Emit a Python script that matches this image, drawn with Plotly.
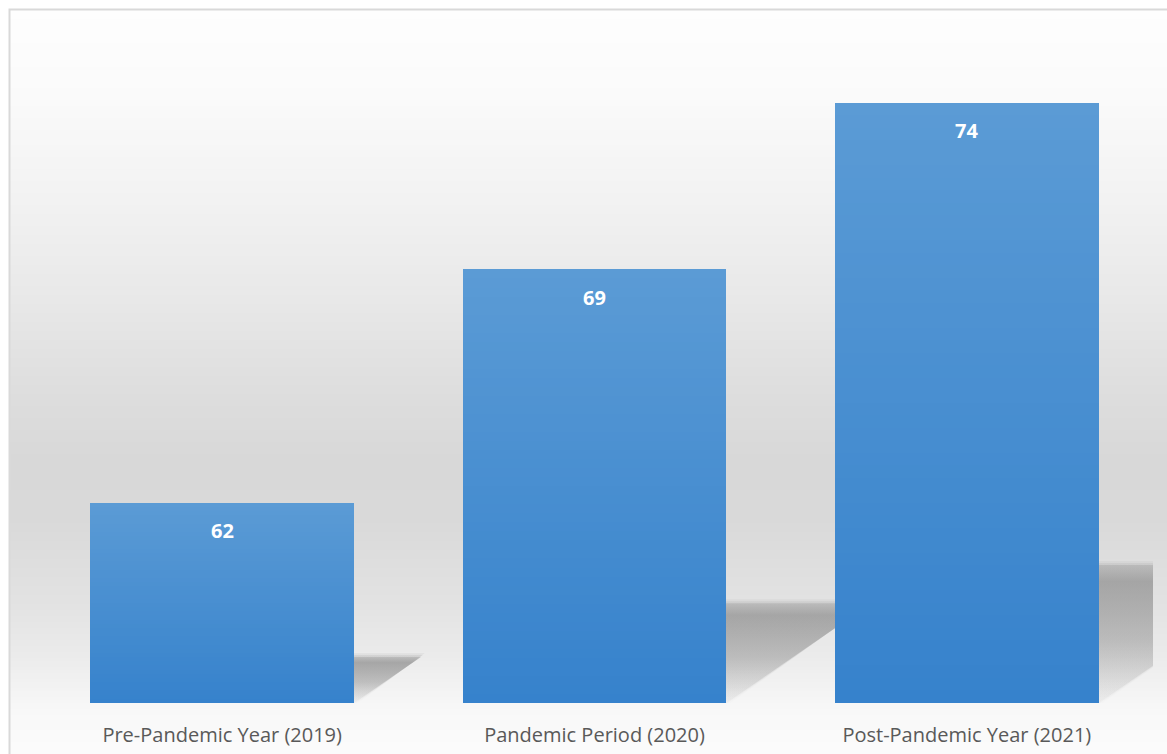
import plotly.graph_objects as go

# ---- data ----
categories = ["Pre-Pandemic Year (2019)", "Pandemic Period (2020)", "Post-Pandemic Year (2021)"]
values = [62, 69, 74]
axis_min, axis_max = 56, 76

# ---- layout geometry ----
W, H = 1167, 754
ML, MR, MT, MB = 36, 14, 36, 51
PW, PH = W - ML - MR, H - MT - MB
BAR_W = 0.709
px_per_x = PW / len(categories)
px_per_y = PH / (axis_max - axis_min)

BAR_TOP = (91, 155, 213)
BAR_BOTTOM = (54, 130, 204)
N_SLICES = 48


def mix(c1, c2, t):
    return "rgb({},{},{})".format(*[round(a + (b - a) * t) for a, b in zip(c1, c2)])


def gray_at(py, stops):
    for (y0, g0), (y1, g1) in zip(stops, stops[1:]):
        if y0 <= py <= y1:
            t = (py - y0) / (y1 - y0)
            return g0 + (g1 - g0) * t
    return stops[-1][1]


def to_paper_x(px):
    return (px - ML) / PW


def to_paper_y(py):
    return (MT + PH - py) / PH


fig = go.Figure()

# perspective shadows cast behind each bar (on the lower axis pair, drawn first);
# slightly grown copies at low opacity soften the edges
for i, v in enumerate(values):
    h = 0.23 * (v - axis_min)
    shift = 1.45 * h * px_per_y / px_per_x
    xl, xr = i - BAR_W / 2, i + BAR_W / 2
    for g_px, a in [(4, 0.25), (2, 0.4), (0, 1.0)]:
        gx = g_px / px_per_x
        gy = g_px / px_per_y
        xs = [xl, xr + gx, xr + shift + gx, xl + shift, xl]
        ys = [axis_min, axis_min, axis_min + h + gy, axis_min + h + gy, axis_min]
        fig.add_trace(go.Scatter(
            x=xs, y=ys, xaxis="x", yaxis="y",
            mode="lines", line=dict(width=0), fill="toself",
            fillgradient=dict(type="vertical", colorscale=[
                [0.0, f"rgba(190,190,190,{0.10 * a:.3f})"],
                [0.45, f"rgba(168,168,168,{0.55 * a:.3f})"],
                [0.88, f"rgba(160,160,160,{0.85 * a:.3f})"],
                [1.0, f"rgba(172,172,172,{0.55 * a:.3f})"],
            ]),
            hoverinfo="skip", showlegend=False,
        ))

# bars, filled with a vertical gradient built from stacked slices
for k in range(N_SLICES):
    t = (k + 0.5) / N_SLICES
    fig.add_trace(go.Bar(
        x=list(range(len(categories))),
        y=[(v - axis_min) / N_SLICES for v in values],
        base=[axis_min + (v - axis_min) * k / N_SLICES for v in values],
        width=BAR_W, xaxis="x2", yaxis="y2",
        marker=dict(color=mix(BAR_BOTTOM, BAR_TOP, t), line=dict(width=0)),
        hoverinfo="skip", showlegend=False,
    ))

# value labels inside the top of each bar
for i, v in enumerate(values):
    fig.add_annotation(
        x=i, y=v, xref="x2", yref="y2", yshift=-28, text=f"<b>{v}</b>", showarrow=False,
        font=dict(family="Open Sans", size=20, color="white"),
    )

# background gradient bands (light at top and bottom, grey in the middle)
bg_stops = [(8, 254), (100, 250), (200, 242), (300, 232), (400, 221), (460, 216),
            (520, 217), (600, 226), (650, 234), (690, 243), (710, 248), (760, 252)]
shapes = []
step = 3
py = 10
while py < H:
    g = round(gray_at(py + step / 2, bg_stops))
    shapes.append(dict(
        type="rect", xref="paper", yref="paper", layer="below",
        x0=to_paper_x(10), x1=to_paper_x(W + 5),
        y0=to_paper_y(py + step + 0.5), y1=to_paper_y(py),
        line=dict(width=0), fillcolor=f"rgb({g},{g},{g})",
    ))
    py += step

# chart frame
shapes.append(dict(
    type="rect", xref="paper", yref="paper", layer="below",
    x0=to_paper_x(9.5), x1=to_paper_x(W + 20),
    y0=to_paper_y(H + 20), y1=to_paper_y(9.5),
    line=dict(width=2, color="#d9d9d9"), fillcolor="rgba(0,0,0,0)",
))

xrange = [-0.5, len(categories) - 0.5]
fig.update_layout(
    width=W, height=H,
    margin=dict(l=ML, r=MR, t=MT, b=MB, pad=0),
    paper_bgcolor="white", plot_bgcolor="rgba(0,0,0,0)",
    barmode="overlay", bargap=0,
    shapes=shapes,
    showlegend=False,
    xaxis=dict(
        range=xrange, automargin=False,
        tickvals=list(range(len(categories))), ticktext=categories,
        showgrid=False, zeroline=False, showline=False, ticks="",
        ticklabelstandoff=18,
        tickfont=dict(family="Open Sans", size=20, color="#595959"),
    ),
    yaxis=dict(range=[axis_min, axis_max], visible=False, fixedrange=True, automargin=False),
    xaxis2=dict(range=xrange, overlaying="x", visible=False),
    yaxis2=dict(range=[axis_min, axis_max], overlaying="y", visible=False, fixedrange=True),
)

fig.write_html("out.html")
